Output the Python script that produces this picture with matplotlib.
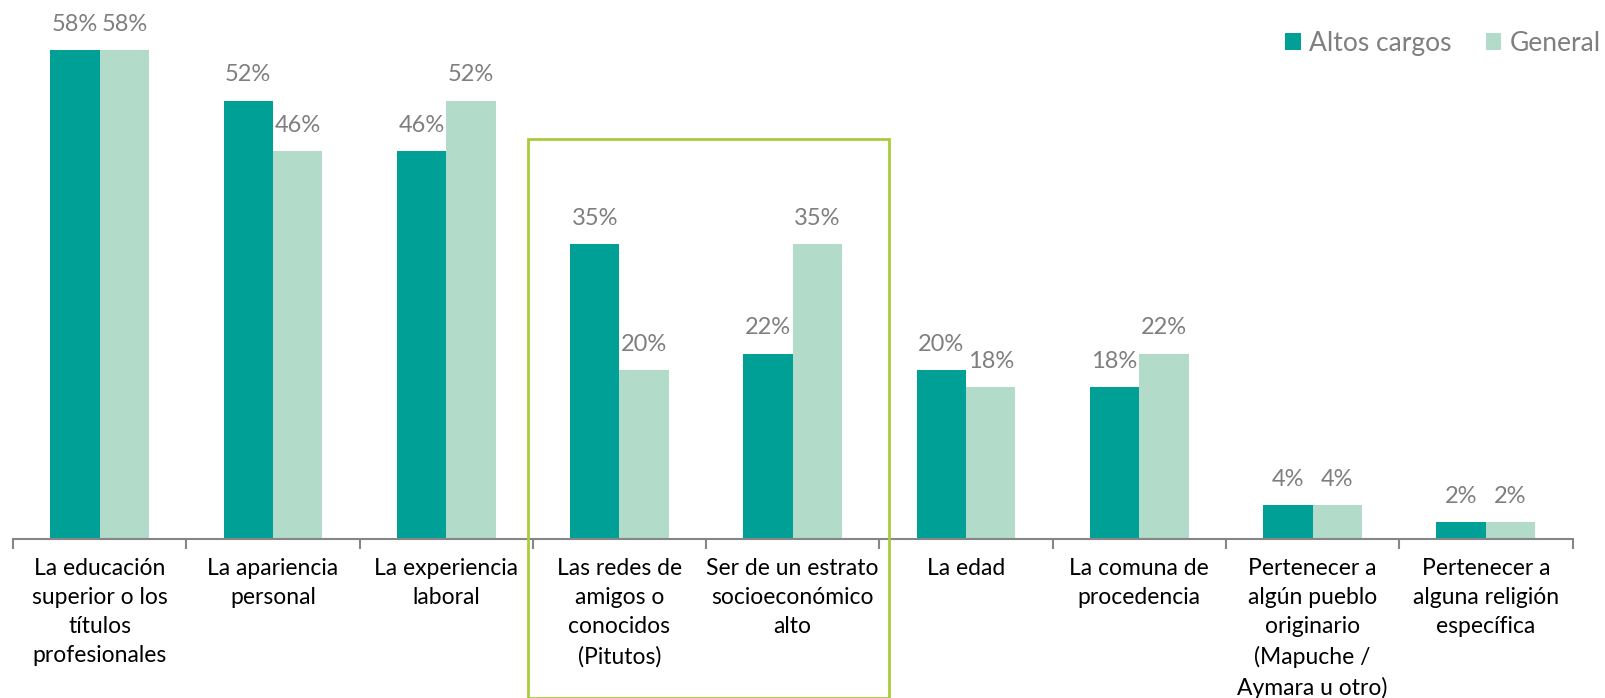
import numpy as np
import matplotlib
matplotlib.use("Agg")
import matplotlib.pyplot as plt
from matplotlib.patches import Rectangle

plt.rcParams['font.family'] = ['Lato', 'DejaVu Sans']

categories = [
    "La educación\nsuperior o los\ntítulos\nprofesionales",
    "La apariencia\npersonal",
    "La experiencia\nlaboral",
    "Las redes de\namigos o\nconocidos\n(Pitutos)",
    "Ser de un estrato\nsocioeconómico\nalto",
    "La edad",
    "La comuna de\nprocedencia",
    "Pertenecer a\nalgún pueblo\noriginario\n(Mapuche /\nAymara u otro)",
    "Pertenecer a\nalguna religión\nespecífica",
]
altos = [58, 52, 46, 35, 22, 20, 18, 4, 2]
general = [58, 46, 52, 20, 35, 18, 22, 4, 2]
series_names = ["Altos cargos", "General"]

c_altos = "#00a096"
c_general = "#b2dbc9"
grey = "#7f7f7f"

W, H = 1605, 698
fig = plt.figure(figsize=(W / 100, H / 100), dpi=100)
ax = fig.add_axes([13 / W, (H - 539) / H, (1572.5 - 13) / W, 539 / H])

x = np.arange(len(categories))
bw = 0.285
b1 = ax.bar(x - bw / 2, altos, bw, color=c_altos, label=series_names[0])
b2 = ax.bar(x + bw / 2, general, bw, color=c_general, label=series_names[1])

for bars, vals in [(b1, altos), (b2, general)]:
    for rect, v in zip(bars, vals):
        ax.annotate(f"{v}%", (rect.get_x() + rect.get_width() / 2, v),
                    xytext=(0, 11), textcoords="offset points",
                    ha="center", va="bottom", fontsize=17, color=grey)

ax.set_xlim(-0.5, len(categories) - 0.5)
ax.set_ylim(0, 539 / 8.43)
ax.set_xticks(np.arange(len(categories) + 1) - 0.5)
ax.set_xticklabels([])
ax.set_xticks(x, minor=True)
ax.set_xticklabels(categories, minor=True, fontsize=16.5, color="black",
                   linespacing=1.47, va="top")
ax.tick_params(axis="x", which="major", length=7, width=1.5, color="#868686")
ax.tick_params(axis="x", which="minor", length=0, pad=14)
ax.set_yticks([])
for s in ["top", "right", "left"]:
    ax.spines[s].set_visible(False)
ax.spines["bottom"].set_color("#868686")
ax.spines["bottom"].set_linewidth(1.5)

leg = fig.legend(handles=[b1, b2], loc="upper right", bbox_to_anchor=(1.012, 0.99),
                 ncol=2, frameon=False, fontsize=19, labelcolor=grey,
                 handlelength=0.6, handleheight=0.6, handletextpad=0.3,
                 columnspacing=1.3)

# highlight box around the two "network / status" categories
box = Rectangle((527.5 / W, 0), (889 - 527.5) / W, (H - 139) / H,
                transform=fig.transFigure, fill=False,
                edgecolor="#a9cc3c", linewidth=2, clip_on=False)
fig.patches.append(box)

fig.savefig("out.png", dpi=100)
